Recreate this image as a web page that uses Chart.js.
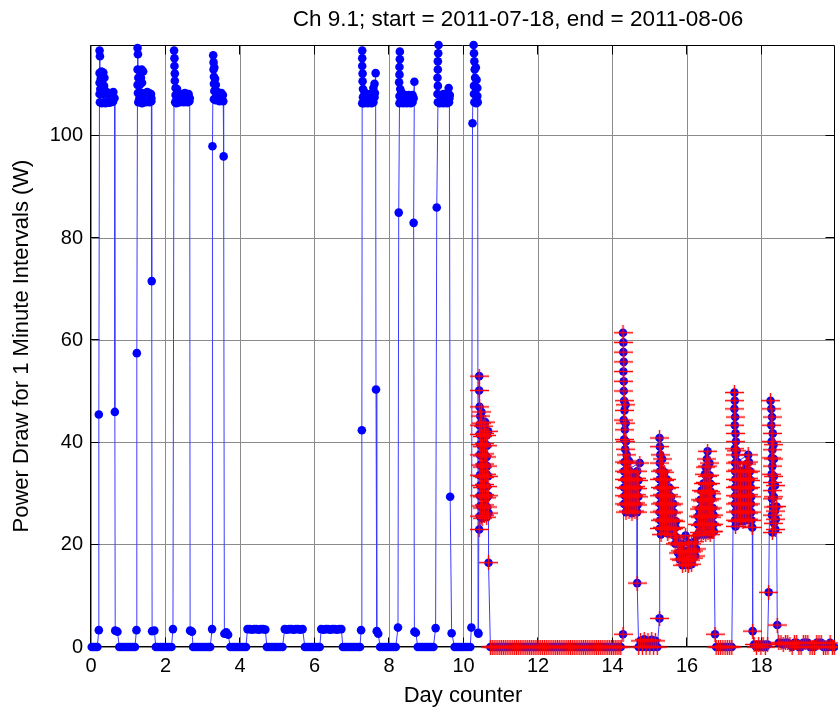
<!DOCTYPE html>
<html>
  <head>
    <title>Ch 9.1 power draw</title>
    <style>
      body { margin: 0; overflow: hidden; background: #fff; }
      .wrap { width: 840px; height: 711px; position: relative; }
    </style>
  </head>
  <body>
    <div class="wrap"><canvas id="powerChart"></canvas></div>

    <script src="https://cdn.jsdelivr.net/npm/chart.js"></script>
    <script>
      const chartTitle = 'Ch 9.1; start = 2011-07-18, end = 2011-08-06';
      const xTitle = 'Day counter';
      const yTitle = 'Power Draw for 1 Minute Intervals (W)';
      const xTicks = [0, 2, 4, 6, 8, 10, 12, 14, 16, 18];
      const yTicks = [0, 20, 40, 60, 80, 100];

      // [day, watts, day, watts, ...], in time order
      const run0 = [0.02,0, 0.07,0, 0.12,0, 0.17,0, 0.21,3.3, 0.21,45.5,
        0.23,116.7, 0.24,115.6, 0.23,112.3, 0.28,112.6, 0.33,112.4, 0.36,111.4, 0.31,111, 0.26,111.2,
        0.23,110.4, 0.25,109.2, 0.30,109.6, 0.35,109.8, 0.39,108.8, 0.34,108.2, 0.28,108.4, 0.23,108.2,
        0.24,106.6, 0.29,106.4, 0.34,106.6, 0.39,106.4, 0.44,106.7, 0.45,108.2, 0.50,108.4, 0.49,106.5,
        0.54,106.6, 0.55,108.3, 0.60,108.6, 0.59,106.7, 0.63,107.4, 0.64,46, 0.65,3.2, 0.71,3.0];
      const idle0 = [0.76,0, 0.82,0, 0.88,0, 0.94,0, 1.00,0, 1.06,0, 1.12,0, 1.18,0, 1.22,3.3];
      const run1 = [1.23,57.5, 1.25,117.2, 1.26,116, 1.25,113, 1.30,112.8, 1.36,113, 1.40,112.6,
        1.34,111.4, 1.27,111.4, 1.25,110, 1.31,110, 1.37,110.4, 1.26,108.4, 1.31,108.2, 1.36,108.4,
        1.41,108.2, 1.46,108.4, 1.51,108.6, 1.56,108.4, 1.61,108.2, 1.62,106.8, 1.57,106.6, 1.52,106.8,
        1.47,106.6, 1.42,106.8, 1.37,106.4, 1.32,106.6, 1.27,106.6, 1.30,107.4, 1.62,107.4, 1.63,71.6,
        1.64,3.1, 1.70,3.2];
      const idle1 = [1.74,0, 1.80,0, 1.86,0, 1.92,0, 1.98,0, 2.04,0, 2.10,0, 2.16,0, 2.20,3.5];
      const run2 = [2.23,116.7, 2.24,115.2, 2.24,113.7, 2.25,112.2, 2.25,110.8, 2.27,109.4, 2.31,109.2,
        2.27,108, 2.32,108, 2.37,108.2, 2.42,108, 2.47,108.2, 2.52,108.4, 2.57,108.2, 2.62,108.2,
        2.64,106.8, 2.59,106.6, 2.54,106.8, 2.49,106.6, 2.44,106.8, 2.39,106.6, 2.34,106.6, 2.29,106.4,
        2.26,106.6, 2.30,107.4, 2.65,107.4, 2.66,3.2, 2.71,3.0];
      const idle2 = [2.74,0, 2.80,0, 2.86,0, 2.92,0, 2.98,0, 3.04,0, 3.10,0, 3.16,0, 3.20,0, 3.25,3.5];
      const run3 = [3.26,98, 3.28,115.8, 3.29,114.4, 3.29,113, 3.31,113.4, 3.30,111.6, 3.33,111.2,
        3.30,110.2, 3.35,110, 3.31,108.8, 3.36,108.6, 3.40,108.6, 3.30,107.2, 3.35,107, 3.40,107.2,
        3.45,108.2, 3.45,106.8, 3.50,107.2, 3.50,108.4, 3.54,108, 3.55,106.8, 3.56,96, 3.58,2.6,
        3.63,2.9, 3.68,2.4];
      const idle3 = [3.74,0, 3.80,0, 3.86,0, 3.92,0, 3.98,0, 4.04,0, 4.10,0, 4.16,0,
        4.20,3.5, 4.26,3.5, 4.32,3.4, 4.38,3.5, 4.44,3.5, 4.50,3.4, 4.56,3.5, 4.62,3.5, 4.68,3.4,
        4.72,0, 4.78,0, 4.84,0, 4.90,0, 4.96,0, 5.02,0, 5.08,0, 5.14,0,
        5.20,3.5, 5.26,3.4, 5.32,3.5, 5.38,3.5, 5.44,3.4, 5.50,3.5, 5.56,3.5, 5.62,3.4, 5.68,3.5,
        5.74,0, 5.80,0, 5.86,0, 5.92,0, 5.98,0, 6.04,0, 6.10,0, 6.14,0,
        6.18,3.5, 6.24,3.4, 6.30,3.5, 6.36,3.5, 6.42,3.4, 6.48,3.5, 6.54,3.5, 6.60,3.4, 6.66,3.5, 6.72,3.5,
        6.76,0, 6.82,0, 6.88,0, 6.94,0, 7.00,0, 7.06,0, 7.12,0, 7.18,0, 7.22,0, 7.25,3.3];
      const run4 = [7.27,42.4, 7.28,116.7, 7.28,115.2, 7.28,113.7, 7.29,112.2, 7.29,110.7, 7.30,109.2,
        7.34,108.6, 7.30,107.6, 7.28,106.4, 7.33,106.4, 7.38,106.8, 7.43,106.4, 7.48,106.6, 7.53,106.4,
        7.58,106.6, 7.61,107.6, 7.58,109.4, 7.55,108.2, 7.50,108.2, 7.45,108, 7.40,108.2, 7.36,107.6,
        7.61,110.2, 7.62,108.4, 7.64,112.3, 7.65,50.4, 7.67,3.1, 7.71,2.6];
      const idle4 = [7.76,0, 7.82,0, 7.88,0, 7.94,0, 8.00,0, 8.06,0, 8.12,0, 8.18,0, 8.24,3.8];
      const run5 = [8.26,85, 8.29,116.5, 8.29,115, 8.28,113.5, 8.28,112, 8.27,110.5, 8.30,109.2,
        8.33,108.6, 8.28,107.8, 8.28,106.4, 8.33,106.6, 8.38,106.4, 8.43,106.6, 8.48,106.4, 8.53,106.6,
        8.58,106.4, 8.63,106.6, 8.63,108, 8.58,107.8, 8.53,108, 8.48,107.8, 8.43,108, 8.38,107.8,
        8.66,107.4, 8.68,110.6, 8.66,83, 8.68,3.0, 8.72,2.8];
      const idle5 = [8.77,0, 8.83,0, 8.89,0, 8.95,0, 9.01,0, 9.07,0, 9.13,0, 9.19,0, 9.25,3.7];
      const run6 = [9.28,86, 9.33,117.8, 9.32,116.2, 9.31,114.6, 9.31,113, 9.30,111.4, 9.31,109.8,
        9.30,108.2, 9.31,106.6, 9.36,106.4, 9.41,106.6, 9.46,106.4, 9.51,106.6, 9.56,106.4, 9.61,106.6,
        9.63,108, 9.60,109.4, 9.56,108.2, 9.51,108, 9.46,108.2, 9.41,108, 9.36,108, 9.62,107.4,
        9.64,29.4, 9.68,2.7];
      const idle6 = [9.76,0, 9.82,0, 9.88,0, 9.94,0, 10.00,0, 10.06,0, 10.12,0, 10.18,0, 10.21,3.8];
      const run7 = [10.24,102.5, 10.27,117.8, 10.28,116.2, 10.29,114.6, 10.30,113, 10.33,113.4,
        10.31,111.4, 10.35,111, 10.28,109.8, 10.33,109.6, 10.37,109.4, 10.28,108.2, 10.33,108,
        10.37,107.8, 10.29,106.6, 10.34,106.4, 10.38,106.6, 10.39,2.8, 10.40,2.6];

      // second half, also marked with red crosses
      const spike0 = [10.42,53, 10.42,50.2, 10.43,47, 10.45,45.2, 10.48,46,
        10.43,43.4, 10.48,43.8, 10.53,43.2, 10.58,44,
        10.44,41.6, 10.50,41.2, 10.56,41.8, 10.62,41.4, 10.66,42.2,
        10.45,39.6, 10.51,39.2, 10.57,39.8, 10.63,39.4,
        10.44,37.6, 10.50,37.4, 10.56,37.8, 10.62,37.2,
        10.45,35.6, 10.51,35.2, 10.57,35.8, 10.63,35.4,
        10.44,33.6, 10.50,33.4, 10.56,33.2, 10.62,33.8, 10.66,33.4,
        10.45,31.6, 10.51,31.2, 10.57,31.8, 10.63,31.4,
        10.44,29.6, 10.50,29.4, 10.56,29.8, 10.62,29.2, 10.67,29.6,
        10.45,27.6, 10.51,27.2, 10.57,27.8, 10.63,27.4,
        10.42,23, 10.44,25.6, 10.50,25.2, 10.56,25.8, 10.62,25.4, 10.67,26.2,
        10.67,16.5];
      const zeros10 = [10.72,0, 10.77,0, 10.82,0, 10.87,0, 10.92,0, 10.97,0, 11.02,0, 11.07,0, 11.12,0,
        11.17,0, 11.22,0, 11.27,0, 11.32,0, 11.37,0, 11.42,0, 11.47,0, 11.52,0, 11.57,0, 11.62,0,
        11.67,0, 11.72,0, 11.77,0, 11.82,0, 11.87,0, 11.92,0, 11.97,0, 12.02,0, 12.07,0, 12.12,0,
        12.17,0, 12.22,0, 12.27,0, 12.32,0, 12.37,0, 12.42,0, 12.47,0, 12.52,0, 12.57,0, 12.62,0,
        12.67,0, 12.72,0, 12.77,0, 12.82,0, 12.87,0, 12.92,0, 12.97,0, 13.02,0, 13.07,0, 13.12,0,
        13.17,0, 13.22,0, 13.27,0, 13.32,0, 13.37,0, 13.42,0, 13.47,0, 13.52,0, 13.57,0, 13.62,0,
        13.67,0, 13.72,0, 13.77,0, 13.82,0, 13.87,0, 13.92,0, 13.97,0, 14.02,0, 14.07,0, 14.12,0,
        14.17,0, 14.22,0];
      const spike1 = [14.28,2.5, 14.28,61.5, 14.29,59.6, 14.29,57.7, 14.30,55.8, 14.29,53.9, 14.30,52,
        14.30,50.1, 14.31,48.2, 14.35,47.4, 14.32,46.3, 14.30,44.4, 14.35,43.8, 14.33,42.5, 14.31,40.6,
        14.36,40.2, 14.34,38.7, 14.38,37.6,
        14.32,36.2, 14.38,36, 14.44,36.4, 14.73,36,
        14.31,34.4, 14.37,34.2, 14.43,34.6, 14.49,34.2, 14.66,34.4,
        14.33,32.8, 14.39,32.6, 14.45,33, 14.51,32.6, 14.57,32.8, 14.63,33, 14.69,32.6,
        14.31,31.2, 14.37,31, 14.43,31.4, 14.49,31, 14.55,31.2, 14.61,31.4, 14.67,31,
        14.33,29.6, 14.39,29.4, 14.45,29.8, 14.51,29.4, 14.57,29.6, 14.63,29.8, 14.69,29.4,
        14.31,28, 14.37,27.8, 14.43,28.2, 14.49,27.8, 14.55,28, 14.61,28.2, 14.67,27.8,
        14.36,26.4, 14.44,26.6, 14.52,26.2, 14.60,26.6, 14.66,26.4, 14.66,12.5];
      const zeros14 = [14.70,0, 14.75,1.2, 14.80,0, 14.85,1.5, 14.90,0, 14.95,1.2, 15.00,0, 15.05,1.4,
        15.10,0, 15.15,1.2, 15.20,0, 15.26,5.6];
      const spike2 = [15.26,40.9, 15.27,39.2, 15.28,37.6, 15.33,36.8, 15.27,36,
        15.28,34.4, 15.33,34.6, 15.39,34.2,
        15.27,32.8, 15.33,33, 15.39,32.6, 15.45,32.8,
        15.28,31.2, 15.34,31, 15.40,31.4, 15.46,31, 15.52,31.2,
        15.27,29.6, 15.33,29.8, 15.39,29.4, 15.45,29.6, 15.51,29.8, 15.57,29.4,
        15.28,28, 15.34,28.2, 15.40,27.8, 15.46,28, 15.52,28.2, 15.58,27.8, 15.63,28,
        15.27,26.4, 15.33,26.6, 15.39,26.2, 15.45,26.4, 15.51,26.6, 15.57,26.2, 15.63,26.4,
        15.28,24.8, 15.34,25, 15.40,24.6, 15.46,24.8, 15.52,25, 15.58,24.6, 15.64,24.8, 15.70,24.6,
        15.27,23.2, 15.33,23.4, 15.39,23, 15.45,23.2, 15.51,23.4, 15.57,23, 15.63,23.2, 15.69,23.4,
        15.30,22, 15.48,22.2, 15.66,21.8, 15.72,21.4,
        15.68,20.2, 15.74,20.4, 15.80,20, 15.86,20.2, 15.96,21.8, 16.04,20.4, 16.12,20.2, 16.20,20.6,
        16.24,19.2, 16.18,18.8, 16.12,18.6, 16.06,18.8, 16.00,18.6, 15.94,18.8, 15.88,18.6, 15.82,18.8,
        15.76,18.4, 15.80,17.2, 15.86,17, 15.92,17.2, 15.98,16.8, 16.04,17.2, 16.10,17, 16.16,17.4,
        16.22,17.8, 16.12,16.2, 16.04,16, 15.96,16.2, 15.88,16,
        16.26,21.8, 16.32,22.4, 16.38,22, 16.44,22.4, 16.50,22, 16.56,22.4, 16.62,22, 16.68,22.6,
        16.71,24, 16.65,23.8, 16.59,24.2, 16.53,23.8, 16.47,24, 16.41,24.2, 16.35,23.8, 16.29,24,
        16.30,25.6, 16.36,25.4, 16.42,25.8, 16.48,25.4, 16.54,25.6, 16.60,25.8, 16.66,25.4, 16.71,25.8,
        16.69,27.2, 16.63,27, 16.57,27.4, 16.51,27, 16.45,27.2, 16.39,27.4, 16.33,27,
        16.36,28.8, 16.42,28.6, 16.48,29, 16.54,28.6, 16.60,28.8, 16.66,29,
        16.63,30.4, 16.57,30.6, 16.51,30.2, 16.45,30.4, 16.39,30.6,
        16.44,32, 16.50,32.2, 16.56,31.8, 16.62,32,
        16.60,33.6, 16.54,33.4, 16.48,33.8, 16.50,35.2, 16.56,35.4, 16.53,36.8, 16.55,38.3,
        16.60,36, 16.66,30, 16.72,22.6, 16.75,2.5];
      const zeros16 = [16.78,0, 16.84,0, 16.90,0, 16.96,0, 17.02,0, 17.08,0, 17.14,0, 17.20,0];
      const spike3 = [17.27,49.8, 17.28,48.2, 17.27,46.6, 17.29,45, 17.28,43.4, 17.30,41.8, 17.31,40.2,
        17.28,38.8, 17.33,38.4, 17.30,37.6, 17.64,37.6,
        17.29,36, 17.35,36.2, 17.60,35.8, 17.66,36.2,
        17.29,34.4, 17.36,34.6, 17.43,34.2, 17.50,34.4, 17.57,34.6, 17.64,34.2, 17.69,34.4,
        17.30,32.8, 17.37,32.6, 17.44,33, 17.51,32.6, 17.58,32.8, 17.65,33, 17.70,32.6,
        17.29,31.2, 17.36,31.4, 17.43,31, 17.50,31.2, 17.57,31.4, 17.64,31, 17.71,31.2,
        17.30,29.6, 17.37,29.4, 17.44,29.8, 17.51,29.4, 17.58,29.6, 17.65,29.8, 17.72,29.4,
        17.29,28, 17.36,28.2, 17.43,27.8, 17.50,28, 17.57,28.2, 17.64,27.8, 17.71,28,
        17.30,26.4, 17.37,26.6, 17.44,26.2, 17.51,26.4, 17.58,26.6, 17.65,26.2, 17.72,26.4,
        17.29,24.8, 17.36,24.6, 17.43,25, 17.50,24.6, 17.57,24.8, 17.64,25, 17.73,24.8,
        17.30,23.6, 17.75,23.4, 17.76,3.1];
      const zeros17 = [17.80,0.5, 17.86,0, 17.92,0.5, 17.98,0, 18.04,0.5, 18.10,0, 18.16,0.5, 18.19,10.7];
      const spike4 = [18.24,48.2, 18.26,46.6, 18.28,45, 18.26,43.4, 18.30,41.8, 18.27,40.2, 18.32,39.6,
        18.29,38.6, 18.27,37, 18.33,36.8, 18.29,35.4, 18.27,33.8, 18.33,33.4, 18.29,32.2, 18.36,31.6,
        18.28,30.6, 18.33,29.4, 18.28,29, 18.31,27.4, 18.36,26.6, 18.28,25.8, 18.33,24.2, 18.37,23,
        18.29,22.4, 18.38,25, 18.40,27.5, 18.42,4.3];
      const tail = [18.46,0.8, 18.52,0.8, 18.58,0.5, 18.64,0.8, 18.70,0.8, 18.76,0.5, 18.82,0, 18.88,0.8,
        18.94,0.8, 19.00,0, 19.06,0, 19.12,0.8, 19.18,0.8, 19.24,0.8, 19.30,0, 19.36,0, 19.42,0, 19.48,0.8,
        19.54,0.8, 19.60,0.8, 19.66,0, 19.72,0, 19.78,0, 19.84,0.8, 19.90,0, 19.95,0];

      const firstPart = [run0, idle0, run1, idle1, run2, idle2, run3, idle3, run4, idle4,
        run5, idle5, run6, idle6, run7];
      const secondPart = [spike0, zeros10, spike1, zeros14, spike2, zeros16, spike3, zeros17, spike4, tail];

      function toPoints(parts) {
        const pts = [];
        parts.forEach(flat => {
          for (let i = 0; i < flat.length; i += 2) pts.push({x: flat[i], y: flat[i + 1]});
        });
        return pts;
      }

      // red '+' marker, wider than tall
      function makeCross() {
        const c = document.createElement('canvas');
        c.width = 19;
        c.height = 15;
        const g = c.getContext('2d');
        g.strokeStyle = '#ff0000';
        g.lineWidth = 1.4;
        g.beginPath();
        g.moveTo(0, 7.5); g.lineTo(19, 7.5);
        g.moveTo(9.5, 0); g.lineTo(9.5, 15);
        g.stroke();
        return c;
      }

      const fontFamily = "'Liberation Sans', Arial, Helvetica, sans-serif";
      Chart.defaults.font.family = fontFamily;
      Chart.defaults.color = '#000';

      // matlab style box, inward ticks and the title
      const matlabBox = {
        id: 'matlabBox',
        beforeDatasetsDraw(chart) {
          const {ctx, chartArea: a, scales} = chart;
          const l = Math.floor(a.left) - 0.5, r = Math.floor(a.right) - 0.5;
          const t = Math.floor(a.top) + 0.5, b = Math.floor(a.bottom) - 0.5;
          const len = 9;
          ctx.save();
          ctx.strokeStyle = '#000';
          ctx.lineWidth = 1;
          ctx.beginPath();
          ctx.moveTo(l, t); ctx.lineTo(r, t); ctx.lineTo(r, b); ctx.lineTo(l, b); ctx.closePath();
          xTicks.forEach(v => {
            const px = Math.round(scales.x.getPixelForValue(v)) - 0.5;
            ctx.moveTo(px, b); ctx.lineTo(px, b - len);
            ctx.moveTo(px, t); ctx.lineTo(px, t + len);
          });
          yTicks.forEach(v => {
            const py = Math.round(scales.y.getPixelForValue(v)) - 0.5;
            ctx.moveTo(l, py); ctx.lineTo(l + len, py);
            ctx.moveTo(r, py); ctx.lineTo(r - len, py);
          });
          ctx.stroke();
          ctx.restore();
        },
        afterDraw(chart) {
          const {ctx} = chart;
          ctx.save();
          ctx.fillStyle = '#000';
          ctx.font = '22.5px ' + fontFamily;
          ctx.textAlign = 'center';
          ctx.textBaseline = 'middle';
          ctx.fillText(chartTitle, 518, 20);
          ctx.restore();
        }
      };

      const ctx = document.getElementById('powerChart');

      new Chart(ctx, {
        type: 'scatter',
        data: {
          datasets: [
            {
              label: 'marked',
              data: toPoints(secondPart),
              showLine: false,
              pointStyle: makeCross(),
              pointRadius: 3,
              order: 0,
              clip: false
            },
            {
              label: 'power',
              data: toPoints(firstPart.concat(secondPart)),
              showLine: true,
              borderColor: '#3c3cff',
              borderWidth: 1,
              tension: 0,
              pointRadius: 4.3,
              pointBackgroundColor: '#0000ff',
              pointBorderWidth: 0,
              order: 1,
              clip: false
            }
          ]
        },
        options: {
          responsive: true,
          maintainAspectRatio: false,
          animation: false,
          events: [],
          layout: { padding: { top: 45, right: 1, left: 0, bottom: 0 } },
          plugins: {
            legend: { display: false },
            tooltip: { enabled: false },
            title: { display: false }
          },
          scales: {
            x: {
              type: 'linear',
              min: 0,
              max: 19.97,
              afterFit: s => { s.height = 64; },
              afterBuildTicks: s => { s.ticks = xTicks.map(v => ({value: v})); },
              ticks: { font: { size: 20 }, padding: 7, maxRotation: 0, color: '#000' },
              grid: { color: '#8a8a8a', drawTicks: false },
              border: { display: false },
              title: { display: true, text: xTitle, font: { size: 22 }, padding: { top: 0, bottom: 2 } }
            },
            y: {
              type: 'linear',
              min: 0,
              max: 117.8,
              afterFit: s => { s.width = 91; },
              afterBuildTicks: s => { s.ticks = yTicks.map(v => ({value: v})); },
              ticks: { font: { size: 20 }, padding: 8, color: '#000' },
              grid: { color: '#8a8a8a', drawTicks: false },
              border: { display: false },
              title: { display: true, text: yTitle, font: { size: 22 }, padding: { top: 9, bottom: 0 } }
            }
          }
        },
        plugins: [matlabBox]
      });
    </script>
  </body>
</html>
